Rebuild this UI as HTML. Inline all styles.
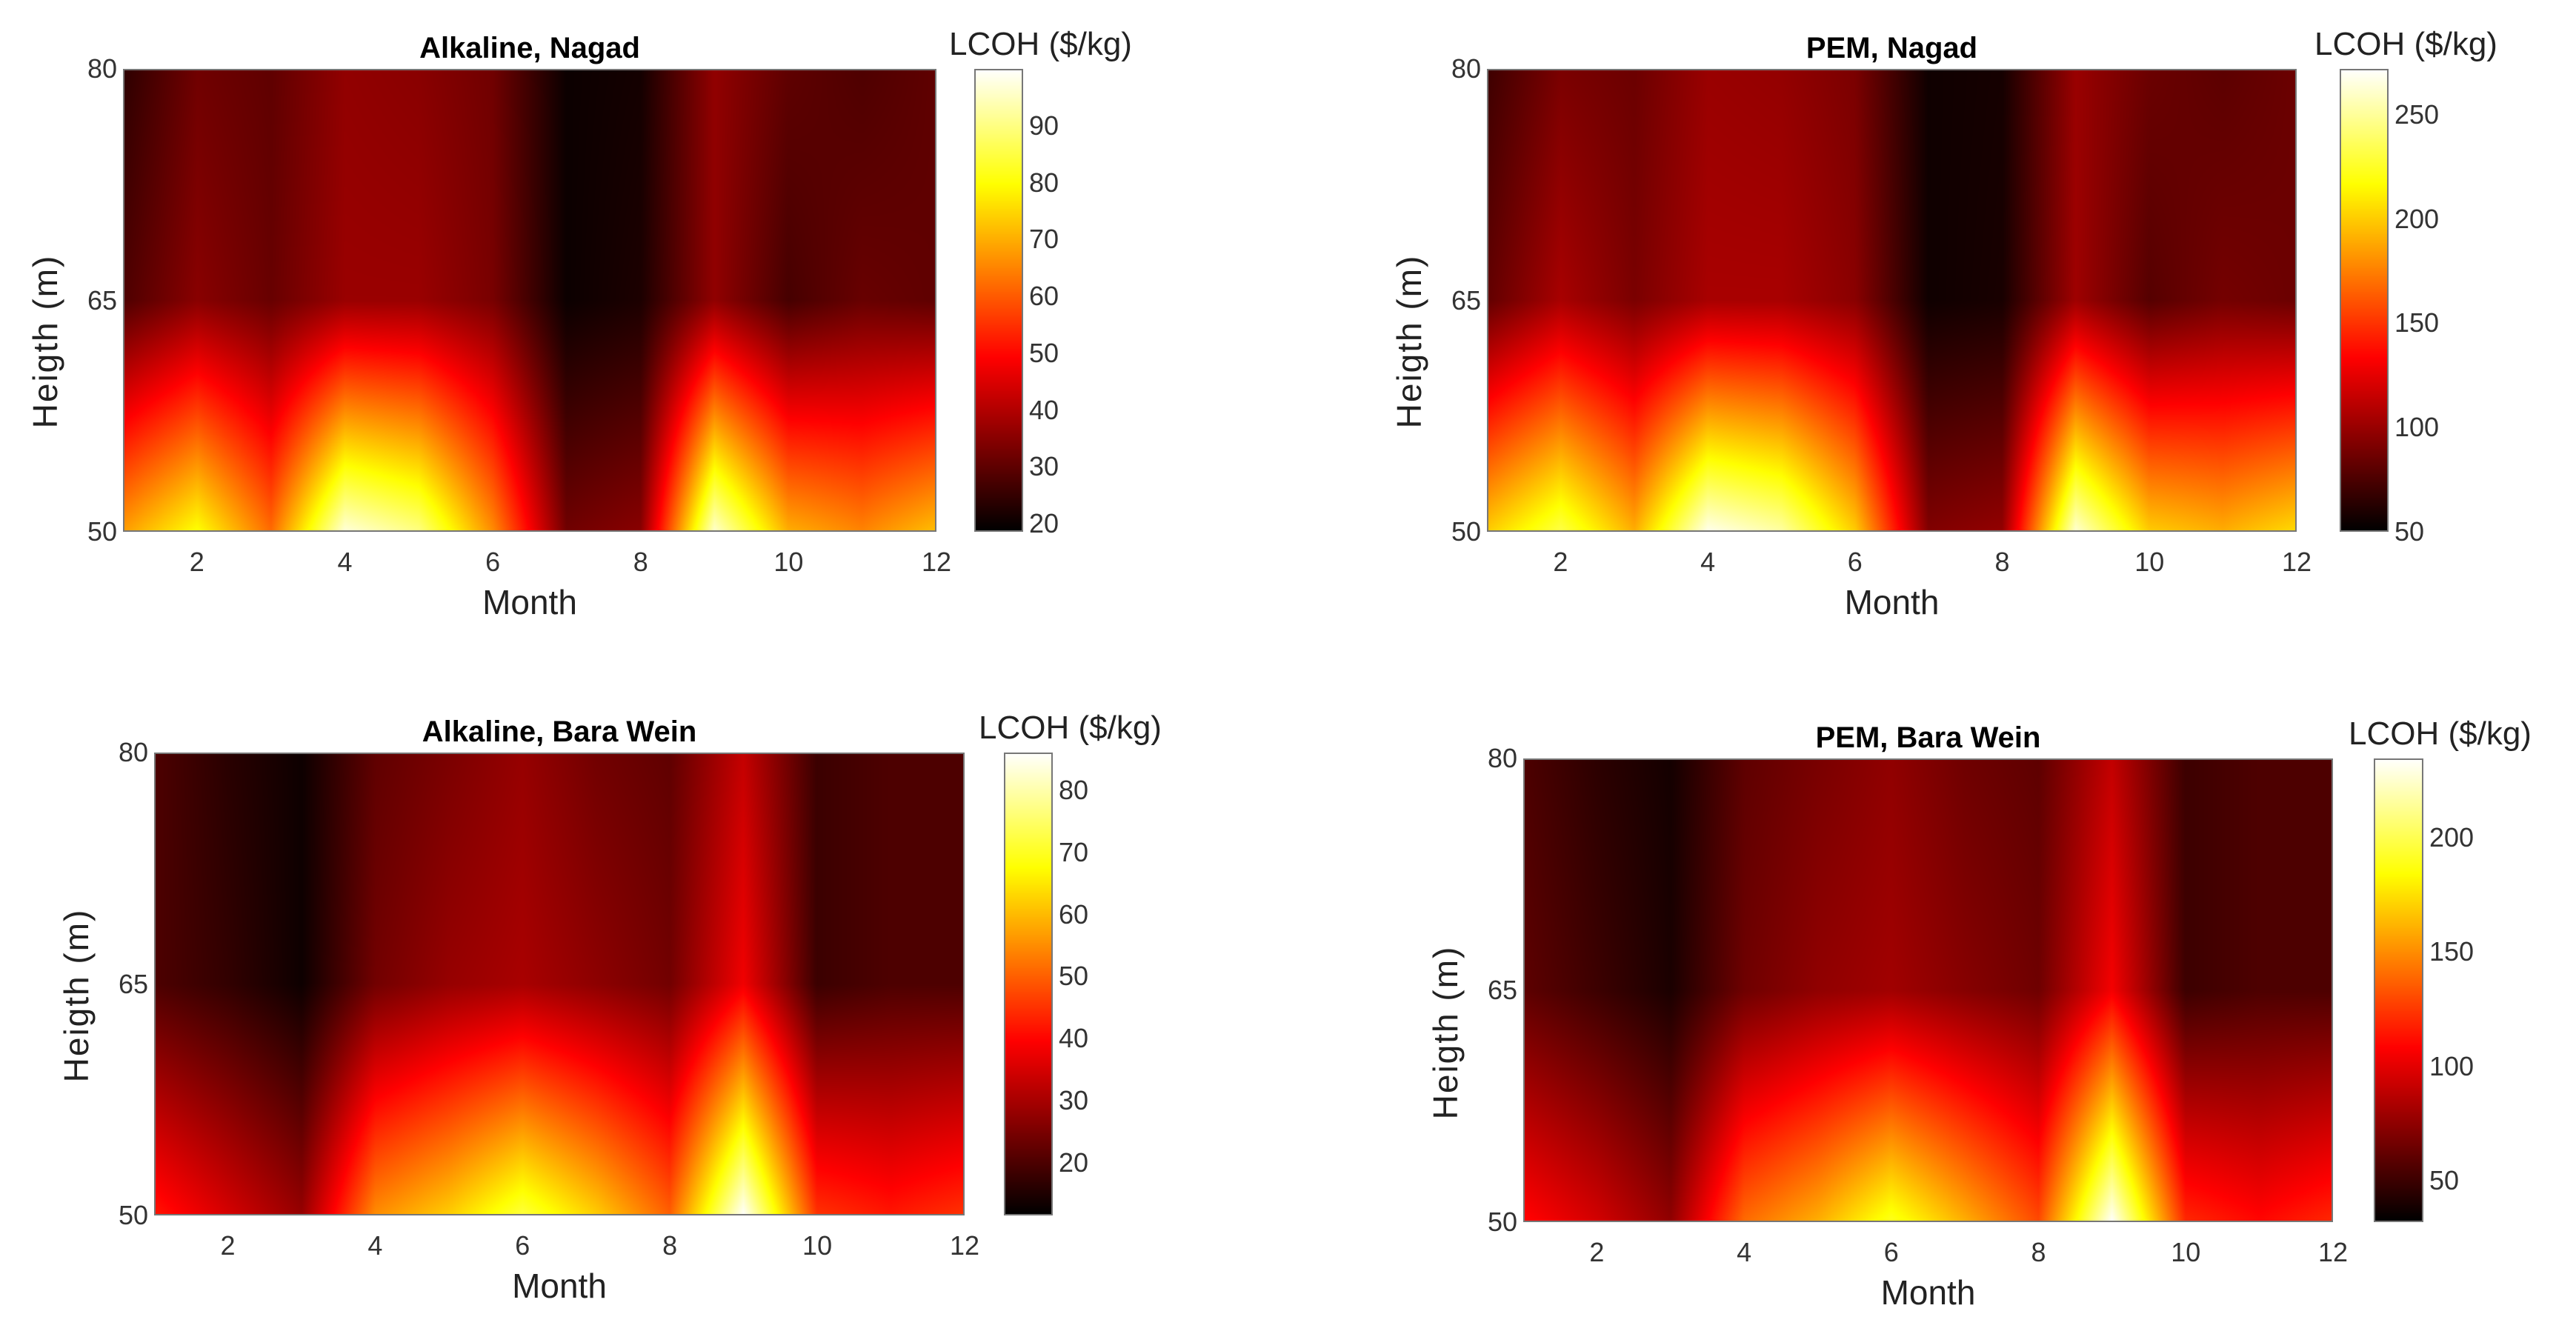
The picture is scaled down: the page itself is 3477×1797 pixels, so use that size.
<!DOCTYPE html>
<html><head><meta charset="utf-8">
<style>
html,body{margin:0;padding:0;background:#fff;}
#root{position:relative;width:3477px;height:1797px;overflow:hidden;background:#fff;font-family:"Liberation Sans",sans-serif;color:#222;}
.abs{position:absolute;}
.title{font-weight:bold;font-size:40px;color:#000;white-space:nowrap;transform:translateX(-50%);}
.tick{font-size:36px;white-space:nowrap;color:#333;}
.xl{font-size:46px;white-space:nowrap;transform:translateX(-50%);color:#222;}
.yl{font-size:46px;white-space:nowrap;transform:translate(-50%,-50%) rotate(-90deg);letter-spacing:2px;color:#222;}
.cbl{font-size:44px;white-space:nowrap;color:#222;}
canvas{position:absolute;}
.frame{position:absolute;border:2px solid #777;box-sizing:border-box;}
</style></head><body>
<div id="root"></div>
<script>
// ---- data: LCOH values [height][month], heights 50,65,80 ----
const months = [1,2,3,4,5,6,7,8,9,10,11,12];
const heights = [50,65,80];
const xTicks = [2,4,6,8,10,12];
const yTicks = [50,65,80];
const alkNagad50 = [68,80,62,97,90,66,32,35,96,70,65,72];
const alkNagad65 = [28,35,31,37,37,33,20,22,36,27,31,30];
const alkNagad80 = [24,32,30,36,35,32,20,21,36,30,28,30];
const pemNagad50 = [200,232,190,268,252,200,92,98,262,200,190,205];
const pemNagad65 = [82,105,90,105,105,95,55,58,102,78,88,85];
const pemNagad80 = [70,90,85,100,98,90,55,57,100,85,80,85];
const alkBara50 = [42,35,28,55,62,72,62,50,86,45,42,45];
const alkBara65 = [20,17,13,24,28,30,27,24,38,18,20,20];
const alkBara80 = [20,16,13,22,25,28,24,22,33,18,20,20];
const pemBara50 = [110,95,75,140,160,190,160,130,234,120,110,120];
const pemBara65 = [60,50,40,65,75,80,72,65,105,50,55,55];
const pemBara80 = [55,45,38,60,68,75,65,60,90,50,55,55];
const cbTicksAN = [20,30,40,50,60,70,80,90];
const cbTicksPN = [50,100,150,200,250];
const cbTicksAB = [20,30,40,50,60,70,80];
const cbTicksPB = [50,100,150,200];
const titles = ["Alkaline, Nagad","PEM, Nagad","Alkaline, Bara Wein","PEM, Bara Wein"];

const root = document.getElementById('root');
function hot(t){
  t=Math.max(0,Math.min(1,t));
  const r=Math.min(1,t/0.375), g=Math.max(0,Math.min(1,(t-0.375)/0.375)), b=Math.max(0,Math.min(1,(t-0.75)/0.25));
  return [r*255,g*255,b*255];
}
function mk(tag,cls,name,inter){
  const e=document.createElement(tag);
  if(cls)e.className=cls;
  
  
  root.appendChild(e);return e;
}
function chart(cfg){
  const {x0,y0,w,h,cbx,cbw,vmin,vmax,rows,cbTicks,title,tag,ylOff}=cfg;
  const xS=m=>x0+(m-1)/11*w;
  const yS=v=>y0+(80-v)/30*h;
  const cS=v=>y0+h-(v-vmin)/(vmax-vmin)*h;
  const cv=mk('canvas','',tag+'-heatmap',false);
  cv.width=w;cv.height=h;cv.style.left=x0+'px';cv.style.top=y0+'px';
  const ctx=cv.getContext('2d');const img=ctx.createImageData(w,h);
  for(let py=0;py<h;py++){
    const hv=80-(py/(h-1))*30;
    let j=hv>=65?1:0; const fy=(hv-heights[j])/(heights[j+1]-heights[j]);
    for(let px=0;px<w;px++){
      const m=1+px/(w-1)*11;
      let i=Math.min(10,Math.floor(m-1)); const fx=m-months[i];
      const a=rows[j][i]*(1-fx)+rows[j][i+1]*fx;
      const b=rows[j+1][i]*(1-fx)+rows[j+1][i+1]*fx;
      const v=a*(1-fy)+b*fy;
      const c=hot((v-vmin)/(vmax-vmin));
      const k=(py*w+px)*4;img.data[k]=c[0];img.data[k+1]=c[1];img.data[k+2]=c[2];img.data[k+3]=255;
    }
  }
  ctx.putImageData(img,0,0);
  const fr=mk('div','frame',tag+'-axes-box',false);
  fr.style.left=x0+'px';fr.style.top=y0+'px';fr.style.width=w+'px';fr.style.height=h+'px';
  const cb=mk('canvas','',tag+'-colorbar',false);
  cb.width=cbw;cb.height=h;cb.style.left=cbx+'px';cb.style.top=y0+'px';
  const c2=cb.getContext('2d');
  for(let py=0;py<h;py++){const c=hot(1-py/(h-1));c2.fillStyle=`rgb(${c[0]|0},${c[1]|0},${c[2]|0})`;c2.fillRect(0,py,cbw,1);}
  const cf=mk('div','frame',tag+'-colorbar-box',false);
  cf.style.left=cbx+'px';cf.style.top=y0+'px';cf.style.width=cbw+'px';cf.style.height=h+'px';
  cbTicks.forEach(t=>{
    const l=mk('div','abs tick',tag+'-colorbar-tick',false);
    l.textContent=t;l.style.left=(cbx+cbw+8)+'px';l.style.top=(cS(t)-21)+'px';
  });
  const lc=mk('div','abs cbl',tag+'-colorbar-label',false);
  lc.textContent='LCOH ($/kg)';lc.style.left=(cbx-34)+'px';lc.style.top=(y0-58)+'px';
  xTicks.forEach(t=>{
    const l=mk('div','abs tick',tag+'-x-tick',false);
    l.textContent=t;l.style.left=xS(t)+'px';l.style.top=(y0+h+20)+'px';l.style.transform='translateX(-50%)';
  });
  yTicks.forEach(t=>{
    const l=mk('div','abs tick',tag+'-y-tick',false);
    l.textContent=t;l.style.left=(x0-48)+'px';l.style.top=(yS(t)-21)+'px';
  });
  const ti=mk('div','abs title',tag+'-title',false);
  ti.textContent=title;ti.style.left=(x0+w/2)+'px';ti.style.top=(y0-50)+'px';
  const xl=mk('div','abs xl',tag+'-x-axis-title',false);
  xl.textContent='Month';xl.style.left=(x0+w/2)+'px';xl.style.top=(y0+h+68)+'px';
  const yl=mk('div','abs yl',tag+'-y-axis-title',false);
  yl.textContent='Heigth (m)';yl.style.left=(x0-105)+'px';yl.style.top=(y0+h/2+ylOff)+'px';
}
chart({tag:'alkaline-nagad',ylOff:55,x0:166,y0:93,w:1098,h:625,cbx:1315,cbw:66,vmin:18.6,vmax:100,rows:[alkNagad50,alkNagad65,alkNagad80],cbTicks:cbTicksAN,title:titles[0]});
chart({tag:'pem-nagad',ylOff:55,x0:2007,y0:93,w:1093,h:625,cbx:3158,cbw:66,vmin:50,vmax:272,rows:[pemNagad50,pemNagad65,pemNagad80],cbTicks:cbTicksPN,title:titles[1]});
chart({tag:'alkaline-bara-wein',ylOff:15,x0:208,y0:1016,w:1094,h:625,cbx:1355,cbw:66,vmin:11.5,vmax:86.1,rows:[alkBara50,alkBara65,alkBara80],cbTicks:cbTicksAB,title:titles[2]});
chart({tag:'pem-bara-wein',ylOff:57,x0:2056,y0:1024,w:1093,h:626,cbx:3204,cbw:67,vmin:32,vmax:234.5,rows:[pemBara50,pemBara65,pemBara80],cbTicks:cbTicksPB,title:titles[3]});
</script>
</body></html>
